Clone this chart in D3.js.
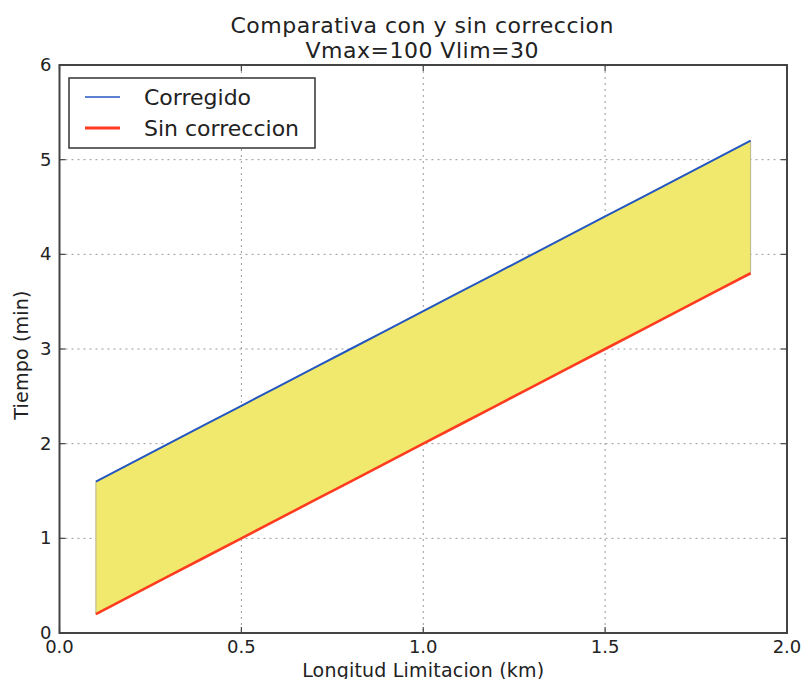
<!DOCTYPE html>
<html>
<head>
<meta charset="utf-8">
<script src="https://cdn.jsdelivr.net/npm/d3@7"></script>
<style>
  html, body { margin: 0; padding: 0; background: #fff; }
  svg { display: block; font-family: "DejaVu Sans", sans-serif; }
</style>
</head>
<body>
<svg id="chart" width="803" height="679"></svg>
<script>
// Longitud de la limitacion (km)
const longitudes = [0.1, 0.2, 0.3, 0.4, 0.5, 0.6, 0.7, 0.8, 0.9, 1.0,
                    1.1, 1.2, 1.3, 1.4, 1.5, 1.6, 1.7, 1.8, 1.9];
// Tiempo con correccion (min)
const tiempoCorregido = [1.6, 1.8, 2.0, 2.2, 2.4, 2.6, 2.8, 3.0, 3.2, 3.4,
                         3.6, 3.8, 4.0, 4.2, 4.4, 4.6, 4.8, 5.0, 5.2];
// Tiempo sin correccion (min)
const tiempoSinCorreccion = [0.2, 0.4, 0.6, 0.8, 1.0, 1.2, 1.4, 1.6, 1.8, 2.0,
                             2.2, 2.4, 2.6, 2.8, 3.0, 3.2, 3.4, 3.6, 3.8];
const xTicks = [0.0, 0.5, 1.0, 1.5, 2.0];
const yTicks = [0, 1, 2, 3, 4, 5, 6];
const seriesNames = ["Corregido", "Sin correccion"];
const titleLines = ["Comparativa con y sin correccion", "Vmax=100 Vlim=30"];

const svg = d3.select("#chart");
const m = { left: 59.5, right: 787, top: 65, bottom: 633 };

const x = d3.scaleLinear().domain([0, 2]).range([m.left, m.right]);
const y = d3.scaleLinear().domain([0, 6]).range([m.bottom, m.top]);

const rows = longitudes.map((v, i) => ({ x: v, a: tiempoCorregido[i], b: tiempoSinCorreccion[i] }));

// grid
const grid = svg.append("g").attr("stroke", "#999").attr("stroke-width", 1)
  .attr("stroke-dasharray", "2,4");
xTicks.slice(1, -1).forEach(t => {
  grid.append("line").attr("x1", x(t)).attr("x2", x(t)).attr("y1", m.top).attr("y2", m.bottom);
});
yTicks.slice(1, -1).forEach(t => {
  grid.append("line").attr("x1", m.left).attr("x2", m.right).attr("y1", y(t)).attr("y2", y(t));
});

// area between the two series
const area = d3.area().x(d => x(d.x)).y0(d => y(d.b)).y1(d => y(d.a));
svg.append("path").datum(rows).attr("d", area)
  .attr("fill", "#f0e96e").attr("stroke", "#b8b48a").attr("stroke-width", 1);

// lines
const lineA = d3.line().x(d => x(d.x)).y(d => y(d.a));
const lineB = d3.line().x(d => x(d.x)).y(d => y(d.b));
svg.append("path").datum(rows).attr("d", lineA)
  .attr("fill", "none").attr("stroke", "#2457c0").attr("stroke-width", 2);
svg.append("path").datum(rows).attr("d", lineB)
  .attr("fill", "none").attr("stroke", "#ff3b1f").attr("stroke-width", 2.6);

// axes frame
svg.append("rect").attr("x", m.left).attr("y", m.top)
  .attr("width", m.right - m.left).attr("height", m.bottom - m.top)
  .attr("fill", "none").attr("stroke", "#444").attr("stroke-width", 2);

// ticks (inward) and labels
const ticks = svg.append("g").attr("stroke", "#444").attr("stroke-width", 1.2);
xTicks.forEach(t => {
  ticks.append("line").attr("x1", x(t)).attr("x2", x(t)).attr("y1", m.bottom).attr("y2", m.bottom - 6);
  ticks.append("line").attr("x1", x(t)).attr("x2", x(t)).attr("y1", m.top).attr("y2", m.top + 6);
  svg.append("text").attr("x", x(t)).attr("y", m.bottom + 20)
    .attr("text-anchor", "middle").attr("font-size", 18).attr("fill", "#222")
    .text(d3.format(".1f")(t));
});
yTicks.forEach(t => {
  ticks.append("line").attr("x1", m.left).attr("x2", m.left + 6).attr("y1", y(t)).attr("y2", y(t));
  ticks.append("line").attr("x1", m.right).attr("x2", m.right - 6).attr("y1", y(t)).attr("y2", y(t));
  svg.append("text").attr("x", m.left - 8).attr("y", y(t) + 6)
    .attr("text-anchor", "end").attr("font-size", 18).attr("fill", "#222")
    .text(t);
});

// axis labels
svg.append("text").attr("x", (m.left + m.right) / 2).attr("y", 677)
  .attr("text-anchor", "middle").attr("font-size", 19).attr("letter-spacing", 0.2).attr("fill", "#222")
  .text("Longitud Limitacion (km)");
svg.append("text").attr("transform", `translate(28,${(m.top + m.bottom) / 2 + 6}) rotate(-90)`)
  .attr("text-anchor", "middle").attr("font-size", 19).attr("letter-spacing", 0.2).attr("fill", "#222")
  .text("Tiempo (min)");

// title
titleLines.forEach((s, i) => {
  svg.append("text").attr("x", (m.left + m.right) / 2 - 1).attr("y", 33 + i * 25)
    .attr("text-anchor", "middle").attr("font-size", 22).attr("letter-spacing", 0.5).attr("fill", "#222")
    .text(s);
});

// legend
const lg = svg.append("g");
lg.append("rect").attr("x", 69).attr("y", 78).attr("width", 246).attr("height", 70)
  .attr("fill", "#fff").attr("stroke", "#333").attr("stroke-width", 1.5);
const legendColors = ["#2457c0", "#ff3b1f"];
const legendWidths = [1.6, 3];
seriesNames.forEach((n, i) => {
  const yy = 97 + i * 31;
  lg.append("line").attr("x1", 85).attr("x2", 120).attr("y1", yy).attr("y2", yy)
    .attr("stroke", legendColors[i]).attr("stroke-width", legendWidths[i]);
  lg.append("text").attr("x", 144).attr("y", yy + 8).attr("font-size", 22).attr("fill", "#222")
    .text(n);
});
</script>
</body>
</html>
